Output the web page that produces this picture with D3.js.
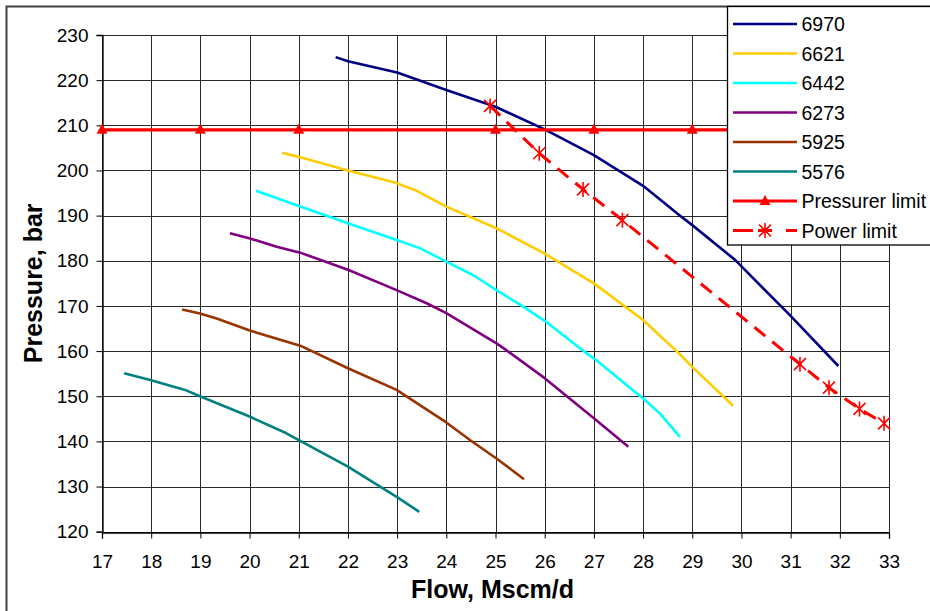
<!DOCTYPE html>
<html>
<head>
<meta charset="utf-8">
<script src="https://cdn.jsdelivr.net/npm/d3@7"></script>
<style>
  body { margin: 0; background: #fff; }
  svg { display: block; font-family: "Liberation Sans", Arial, sans-serif; }
</style>
</head>
<body>
<svg id="chart" width="930" height="611"></svg>
<script>
// Axis ticks
const flowTicks = d3.range(17, 34, 1);
const pressureTicks = d3.range(120, 231, 10);

// Compressor speed curves (flow in Mscm/d, pressure in bar)
const flow6970 = [21.75, 22.0, 23.0, 24.0, 25.0, 26.0, 27.0, 28.0, 28.74, 29.0, 29.87, 30.98, 31.97];
const pres6970 = [225.1, 224.2, 221.7, 217.8, 214.1, 209.1, 203.4, 196.6, 190.1, 187.9, 180.2, 168.0, 156.7];

const flow6621 = [20.66, 21.03, 22.0, 22.99, 23.4, 24.0, 25.02, 26.0, 27.0, 28.0, 28.73, 29.0, 29.83];
const pres6621 = [203.9, 202.9, 200.0, 197.2, 195.5, 192.0, 187.2, 181.6, 175.0, 166.9, 159.5, 156.5, 147.9];

const flow6442 = [20.13, 21.03, 22.0, 22.99, 23.46, 24.0, 24.55, 25.02, 25.57, 26.0, 26.85, 27.0, 28.0, 28.34, 28.75];
const pres6442 = [195.5, 192.0, 188.3, 184.6, 182.8, 179.8, 176.8, 173.5, 169.8, 166.7, 159.5, 158.4, 149.5, 146.2, 141.0];

const flow6273 = [19.6, 19.99, 20.55, 21.03, 22.0, 22.99, 23.6, 24.0, 25.02, 25.22, 26.0, 27.0, 27.7];
const pres6273 = [186.1, 185.0, 183.1, 181.8, 178.0, 173.5, 170.6, 168.4, 161.7, 160.2, 154.0, 145.1, 138.8];

const flow5925 = [18.63, 18.99, 19.33, 19.99, 21.03, 22.0, 22.99, 24.0, 24.48, 25.02, 25.58];
const pres5925 = [169.2, 168.3, 167.2, 164.6, 161.2, 156.2, 151.4, 144.2, 140.3, 136.2, 131.6];

const flow5576 = [17.45, 17.98, 18.69, 18.99, 20.0, 20.75, 21.03, 22.0, 22.99, 23.45];
const pres5576 = [155.1, 153.6, 151.4, 150.0, 145.5, 141.8, 140.1, 134.4, 127.7, 124.4];

// Operating limits
const flowPressurer = [17, 19, 21, 25, 27, 29, 31, 33];
const presPressurer = [209, 209, 209, 209, 209, 209, 209, 209];

const flowPower = [24.89, 25.89, 26.78, 27.58, 31.19, 31.78, 32.4, 32.9];
const presPower = [214.3, 203.8, 195.8, 189.0, 157.1, 151.9, 147.2, 144.0];

const speedNames = ["6970", "6621", "6442", "6273", "5925", "5576"];
const speedColors = ["#000080", "#FFCC00", "#00FFFF", "#800080", "#993300", "#008080"];
const speedFlows = [flow6970, flow6621, flow6442, flow6273, flow5925, flow5576];
const speedPressures = [pres6970, pres6621, pres6442, pres6273, pres5925, pres5576];

const pressurerName = "Pressurer limit";
const powerName = "Power limit";
const limitColor = "#FF0000";

const xTitle = "Flow, Mscm/d";
const yTitle = "Pressure, bar";

// ---- layout ----
const svg = d3.select("#chart");
const plot = { left: 102, right: 889, top: 35, bottom: 531.7 };

const x = d3.scaleLinear().domain([17, 33]).range([plot.left, plot.right]);
const y = d3.scaleLinear().domain([120, 230]).range([plot.bottom, plot.top]);

// outer frame
svg.append("rect")
  .attr("x", 6.5).attr("y", 6.5)
  .attr("width", 940).attr("height", 620)
  .attr("fill", "#fff")
  .attr("stroke", "#404040").attr("stroke-width", 2);

// grid
const grid = svg.append("g").attr("shape-rendering", "crispEdges");
grid.selectAll("line.v").data(flowTicks).join("line")
  .attr("x1", d => Math.round(x(d)) + 0.5).attr("x2", d => Math.round(x(d)) + 0.5)
  .attr("y1", plot.top).attr("y2", plot.bottom)
  .attr("stroke", "#2a2a2a").attr("stroke-width", 1);
grid.selectAll("line.h").data(pressureTicks).join("line")
  .attr("y1", d => Math.round(y(d)) + 0.5).attr("y2", d => Math.round(y(d)) + 0.5)
  .attr("x1", plot.left).attr("x2", plot.right)
  .attr("stroke", "#2a2a2a").attr("stroke-width", 1);

// axes
const xAxis = svg.append("g")
  .attr("transform", `translate(0,${Math.round(plot.bottom) + 0.5})`)
  .call(d3.axisBottom(x).tickValues(flowTicks).tickSize(6).tickPadding(16).tickFormat(d3.format("d")));
const yAxis = svg.append("g")
  .attr("transform", `translate(${Math.round(plot.left) + 0.5},0)`)
  .call(d3.axisLeft(y).tickValues(pressureTicks).tickSize(6).tickPadding(8).tickFormat(d3.format("d")));

[xAxis, yAxis].forEach(g => {
  g.select(".domain").attr("stroke", "#000").attr("stroke-width", 1.3);
  g.selectAll(".tick line").attr("stroke", "#000");
  g.selectAll(".tick text").attr("fill", "#000")
    .style("font-size", "19px")
    .style("font-family", '"Liberation Sans", Arial, sans-serif');
});

// speed curves
const line = d3.line().x(d => x(d[0])).y(d => y(d[1]));
speedNames.forEach((name, i) => {
  const pts = speedFlows[i].map((f, j) => [f, speedPressures[i][j]]);
  svg.append("path")
    .datum(pts)
    .attr("d", line)
    .attr("fill", "none")
    .attr("stroke", speedColors[i])
    .attr("stroke-width", 2.6)
    .attr("stroke-linejoin", "round");
});

// marker shapes
function trianglePath(cx, cy) {
  return `M${cx},${cy - 6}L${cx + 5.5},${cy + 4}L${cx - 5.5},${cy + 4}Z`;
}
function starPath(cx, cy) {
  const r = 7.5, d = 6;
  return `M${cx},${cy - r}L${cx},${cy + r}` +
         `M${cx - d},${cy - d}L${cx + d},${cy + d}` +
         `M${cx - d},${cy + d}L${cx + d},${cy - d}`;
}

// pressurer limit
const presPts = flowPressurer.map((f, j) => [f, presPressurer[j]]);
svg.append("path").datum(presPts).attr("d", line)
  .attr("fill", "none").attr("stroke", limitColor).attr("stroke-width", 3.2);
svg.append("g").selectAll("path").data(presPts).join("path")
  .attr("d", d => trianglePath(x(d[0]), y(d[1])))
  .attr("fill", limitColor);

// power limit
const powPts = flowPower.map((f, j) => [f, presPower[j]]);
svg.append("path").datum(powPts).attr("d", line)
  .attr("fill", "none").attr("stroke", limitColor).attr("stroke-width", 3)
  .attr("stroke-dasharray", "14,9");
svg.append("g").selectAll("path").data(powPts).join("path")
  .attr("d", d => starPath(x(d[0]), y(d[1])))
  .attr("fill", "none").attr("stroke", limitColor).attr("stroke-width", 1.6);

// axis titles
svg.append("text")
  .attr("x", (plot.left + plot.right) / 2 - 3).attr("y", 598)
  .attr("text-anchor", "middle")
  .style("font-size", "25px").style("font-weight", "bold")
  .text(xTitle);
svg.append("text")
  .attr("transform", `translate(42,${(plot.top + plot.bottom) / 2}) rotate(-90)`)
  .attr("text-anchor", "middle")
  .style("font-size", "25px").style("font-weight", "bold")
  .text(yTitle);

// legend
const legend = svg.append("g");
legend.append("rect")
  .attr("x", 727.5).attr("y", 6.5).attr("width", 230).attr("height", 238.5)
  .attr("fill", "#fff").attr("stroke", "#000").attr("stroke-width", 1.3);

const legendItems = speedNames.map((n, i) => ({ name: n, color: speedColors[i], kind: "line" }))
  .concat([{ name: pressurerName, color: limitColor, kind: "tri" },
           { name: powerName, color: limitColor, kind: "star" }]);

const rowY = d3.scaleLinear().domain([0, 7]).range([24, 230.5]);
legendItems.forEach((it, i) => {
  const cy = rowY(i);
  const g = legend.append("g");
  const ln = g.append("line")
    .attr("x1", 733).attr("x2", 797).attr("y1", cy).attr("y2", cy)
    .attr("stroke", it.color)
    .attr("stroke-width", it.kind === "line" ? 2.6 : (it.kind === "tri" ? 3.2 : 3));
  if (it.kind === "star") ln.attr("stroke-dasharray", "20,5,14,14,11");
  if (it.kind === "tri") g.append("path").attr("d", trianglePath(765, cy)).attr("fill", it.color);
  if (it.kind === "star") g.append("path").attr("d", starPath(765, cy))
    .attr("fill", "none").attr("stroke", it.color).attr("stroke-width", 1.6);
  g.append("text")
    .attr("x", 801.5).attr("y", cy).attr("dy", "0.36em")
    .style("font-size", "19.5px")
    .text(it.name);
});
</script>
</body>
</html>
